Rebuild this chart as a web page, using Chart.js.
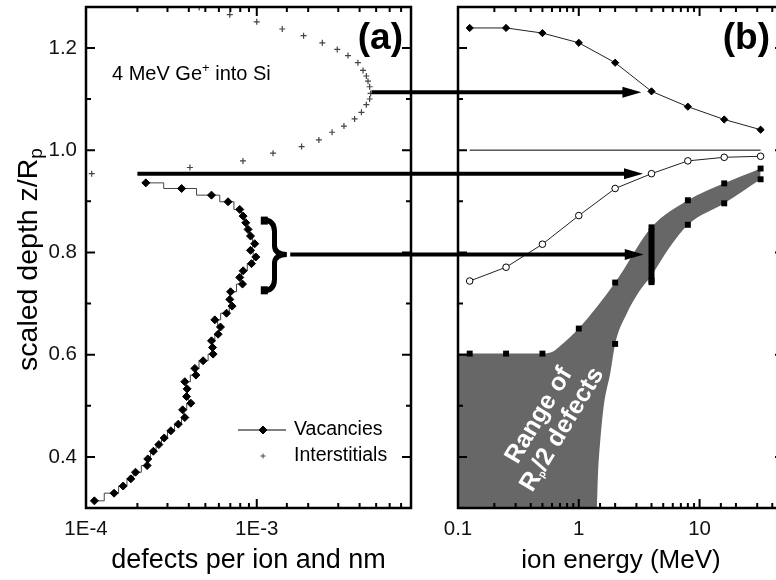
<!DOCTYPE html>
<html>
<head>
<meta charset="utf-8">
<script src="https://cdn.jsdelivr.net/npm/chart.js@4.4.1/dist/chart.umd.min.js"></script>
<style>
  body { margin: 0; background: #fff; }
  #wrap { position: relative; width: 776px; height: 580px; overflow: hidden; background: #fff; }
  #wrap canvas { position: absolute; left: 0; top: 0; }
</style>
</head>
<body>
<div id="wrap">
  <canvas id="profile" width="776" height="580"></canvas>
  <canvas id="energy" width="800" height="580"></canvas>
</div>
<script>
// (a) defect depth profile for 4 MeV Ge+ into Si
const vacDefects = [2.24e-4, 3.63e-4, 5.43e-4, 6.79e-4, 7.95e-4, 8.32e-4, 8.62e-4, 8.89e-4, 9.19e-4, 9.73e-4,
  9.19e-4, 9.87e-4, 9.31e-4, 8.32e-4, 7.95e-4, 8.25e-4, 7.02e-4, 6.95e-4, 7.17e-4, 6.65e-4,
  5.68e-4, 6.13e-4, 5.94e-4, 5.43e-4, 5.51e-4, 5.55e-4, 4.85e-4, 4.34e-4, 4.40e-4, 3.79e-4,
  3.91e-4, 3.88e-4, 4.11e-4, 3.68e-4, 3.79e-4, 3.47e-4, 3.14e-4, 2.87e-4, 2.67e-4, 2.48e-4,
  2.30e-4, 2.28e-4, 1.95e-4, 1.83e-4, 1.65e-4, 1.46e-4, 1.12e-4];
const vacDepth = [0.936, 0.925, 0.912, 0.899, 0.884, 0.871, 0.858, 0.845, 0.832, 0.817,
  0.804, 0.791, 0.778, 0.764, 0.751, 0.738, 0.723, 0.708, 0.695, 0.681,
  0.668, 0.654, 0.640, 0.627, 0.614, 0.601, 0.588, 0.573, 0.560, 0.547,
  0.533, 0.518, 0.505, 0.492, 0.477, 0.464, 0.451, 0.437, 0.424, 0.411,
  0.396, 0.383, 0.370, 0.357, 0.343, 0.329, 0.314];

const intDefects = [1.08e-4, 4.06e-4, 8.3e-4, 1.245e-3, 1.83e-3, 2.31e-3, 2.76e-3, 3.24e-3, 3.74e-3, 4.10e-3,
  4.38e-3, 4.58e-3, 4.64e-3, 4.58e-3, 4.48e-3, 4.38e-3, 4.19e-3, 3.91e-3, 3.42e-3, 2.96e-3,
  2.42e-3, 1.88e-3, 1.41e-3, 1.0e-3, 6.95e-4, 4.6e-4];
const intDepth = [0.954, 0.966, 0.979, 0.994, 1.007, 1.020, 1.035, 1.047, 1.061, 1.074,
  1.089, 1.100, 1.111, 1.124, 1.135, 1.145, 1.156, 1.171, 1.185, 1.197,
  1.210, 1.224, 1.237, 1.251, 1.265, 1.279];

// (b) characteristic depths vs ion energy
const energies = [0.125, 0.25, 0.5, 1, 2, 4, 8, 16, 32];
const interstitialPeak = [1.239, 1.239, 1.229, 1.210, 1.171, 1.115, 1.085, 1.060, 1.040];
const crossoverDepth = [0.744, 0.771, 0.816, 0.872, 0.925, 0.954, 0.979, 0.986, 0.988];
const rp2Upper = [0.602, 0.602, 0.602, 0.651, 0.741, 0.849, 0.902, 0.935, 0.964];
const rp2LowerEnergy = [2, 4, 8, 16, 32];
const rp2Lower = [0.621, 0.745, 0.854, 0.896, 0.943];

// outline of the shaded Rp/2 band
const bandTopEnergy = [0.1, 0.125, 0.25, 0.5, 0.6, 0.7, 1, 2, 4, 8, 16, 32];
const bandTopDepth = [0.602, 0.602, 0.602, 0.602, 0.605, 0.617, 0.651, 0.741, 0.849, 0.902, 0.935, 0.964];
const bandBotEnergy = [0.1, 1.40, 1.444, 1.51, 1.61, 1.83, 2, 2.48, 3.19, 4, 5.65, 8, 16, 32];
const bandBotDepth = [0.29, 0.29, 0.370, 0.435, 0.500, 0.566, 0.621, 0.679, 0.725, 0.755, 0.81, 0.854, 0.896, 0.943];

// 4 MeV range bar and the connecting arrows
const barEnergy = 4;
const barDepth = [0.736, 0.847];
const arrowDepth = [1.113, 0.954, 0.796];
const arrowFrom = [4.7e-3, 2.0e-4, 1.57e-3];
const arrowTo = [3.3, 3.4, 3.45];

// ticks
const depthTicks = [0.4, 0.5, 0.6, 0.7, 0.8, 0.9, 1.0, 1.1, 1.2];
const defectLabels = {'-4': '1E-4', '-3': '1E-3'};
const energyLabels = {'-1': '0.1', '0': '1', '1': '10'};

const FONT = '"Liberation Sans", Arial, sans-serif';
const font = (size, bold) => (bold ? 'bold ' : '') + size + 'px ' + FONT;
const pts = (xs, ys) => xs.map((x, i) => ({x, y: ys[i]}));
const decade = v => Math.round(Math.log10(v));
const isDecade = v => Math.abs(Math.log10(v) - decade(v)) < 1e-6;
const isMajorDepth = v => Math.round(v * 10) % 2 === 0;

Chart.defaults.font.family = FONT;
Chart.defaults.color = '#111';

// text made of runs with different sizes / baseline shifts
function drawRuns(ctx, runs, x, y, center) {
  ctx.textAlign = 'left';
  const widths = runs.map(r => { ctx.font = font(r.size, r.bold); return ctx.measureText(r.t).width; });
  let cx = center ? x - widths.reduce((s, w) => s + w, 0) / 2 : x;
  runs.forEach((r, i) => {
    ctx.font = font(r.size, r.bold);
    ctx.fillText(r.t, cx, y + (r.dy || 0));
    cx += widths[i];
  });
}

// inward ticks on all four sides plus the box
const frame = {
  id: 'frame',
  afterDatasetsDraw(chart) {
    const {ctx, chartArea: a, scales: {x, y}} = chart;
    ctx.save();
    ctx.strokeStyle = '#000';
    ctx.lineWidth = 2;
    ctx.beginPath();
    for (const t of x.ticks) {
      const px = x.getPixelForValue(t.value);
      if (px < a.left + 1 || px > a.right - 1) continue;
      const len = isDecade(t.value) ? 9 : 5;
      ctx.moveTo(px, a.bottom); ctx.lineTo(px, a.bottom - len);
      ctx.moveTo(px, a.top); ctx.lineTo(px, a.top + len);
    }
    for (const v of depthTicks) {
      const py = y.getPixelForValue(v);
      const len = isMajorDepth(v) ? 9 : 5;
      ctx.moveTo(a.left, py); ctx.lineTo(a.left + len, py);
      ctx.moveTo(a.right, py); ctx.lineTo(a.right - len, py);
    }
    ctx.stroke();
    ctx.lineWidth = 2.5;
    ctx.strokeRect(a.left, a.top, a.right - a.left, a.bottom - a.top);
    ctx.restore();
  }
};

const brace = {left: 1.07e-3, stem: 1.27e-3, tip: 1.5e-3, top: 0.870, mid: 0.796, bottom: 0.718};

const profileNotes = {
  id: 'profileNotes',
  afterDraw(chart) {
    const {ctx, chartArea: a, scales: {x, y}} = chart;
    ctx.save();
    ctx.fillStyle = '#000';
    ctx.textBaseline = 'alphabetic';

    ctx.font = font(37, true);
    ctx.textAlign = 'right';
    ctx.fillText('(a)', a.right - 8, a.top + 42);

    drawRuns(ctx, [{t: '4 MeV Ge', size: 20}, {t: '+', size: 13, dy: -8}, {t: ' into Si', size: 20}],
      a.left + 26, a.top + 73);

    // y axis title with subscript
    ctx.save();
    ctx.translate(a.left - 49, (a.top + a.bottom) / 2 + 2);
    ctx.rotate(-Math.PI / 2);
    drawRuns(ctx, [{t: 'scaled depth z/R', size: 28.5}, {t: 'p', size: 19, dy: 5}], 0, 0, true);
    ctx.restore();

    // legend
    const lx = a.right - 173, ly1 = a.bottom - 78, ly2 = a.bottom - 52;
    ctx.strokeStyle = '#000';
    ctx.lineWidth = 1;
    ctx.beginPath(); ctx.moveTo(lx, ly1); ctx.lineTo(lx + 48, ly1); ctx.stroke();
    Chart.helpers.drawPoint(ctx, {pointStyle: 'rectRot', radius: 4, borderWidth: 1, rotation: 0}, lx + 25, ly1);
    ctx.strokeStyle = '#444';
    Chart.helpers.drawPoint(ctx, {pointStyle: 'cross', radius: 2.5, borderWidth: 1, rotation: 0}, lx + 25, ly2);
    ctx.textBaseline = 'middle';
    ctx.textAlign = 'left';
    ctx.font = font(19.5);
    ctx.fillText('Vacancies', lx + 56, ly1);
    ctx.fillText('Interstitials', lx + 56, ly2);

    // curly brace marking the Rp/2 defect range
    const X0 = x.getPixelForValue(brace.left), X1 = x.getPixelForValue(brace.stem), X2 = x.getPixelForValue(brace.tip);
    const T = y.getPixelForValue(brace.top), M = y.getPixelForValue(brace.mid), B = y.getPixelForValue(brace.bottom);
    ctx.strokeStyle = '#000';
    ctx.lineWidth = 5;
    ctx.beginPath();
    ctx.moveTo(X0, T + 3);
    ctx.quadraticCurveTo(X1, T + 3, X1, T + 15);
    ctx.lineTo(X1, M - 9);
    ctx.quadraticCurveTo(X1, M, X2, M);
    ctx.quadraticCurveTo(X1, M, X1, M + 9);
    ctx.lineTo(X1, B - 15);
    ctx.quadraticCurveTo(X1, B - 3, X0, B - 3);
    ctx.stroke();
    ctx.fillRect(X0 - 1, T, 7, 8);
    ctx.fillRect(X0 - 1, B - 8, 7, 8);
    ctx.restore();
  }
};

const profileChart = new Chart(document.getElementById('profile'), {
  type: 'scatter',
  data: {
    datasets: [{
      label: 'Vacancies',
      data: pts(vacDefects, vacDepth),
      showLine: true,
      stepped: 'middle',
      fill: false,
      borderColor: '#444',
      borderWidth: 1,
      pointStyle: 'rectRot',
      pointRadius: 4,
      pointBackgroundColor: '#000',
      pointBorderColor: '#000',
      pointBorderWidth: 1
    }, {
      label: 'Interstitials',
      data: pts(intDefects, intDepth),
      pointStyle: 'cross',
      pointRadius: 3,
      pointBorderColor: '#444',
      pointBorderWidth: 1.2
    }]
  },
  options: {
    responsive: false,
    animation: false,
    devicePixelRatio: 1,
    events: [],
    layout: {padding: {left: 0, right: 365, top: 7, bottom: 0}},
    plugins: {legend: {display: false}, tooltip: {enabled: false}},
    scales: {
      x: {
        type: 'logarithmic',
        min: 1e-4,
        max: 8e-3,
        grid: {display: false, drawTicks: false},
        border: {display: false},
        ticks: {
          autoSkip: false, maxRotation: 0, padding: 9, font: {size: 20.5},
          callback: v => isDecade(v) ? (defectLabels[decade(v)] || '') : ''
        },
        title: {display: true, text: 'defects per ion and nm', color: '#000',
          font: {size: 27, lineHeight: 1}, padding: {top: 0, bottom: 6}},
        afterFit: s => { s.height = 72; s.paddingLeft = 0; s.paddingRight = 0; }
      },
      y: {
        min: 0.3,
        max: 1.28,
        grid: {display: false, drawTicks: false},
        border: {display: false},
        afterBuildTicks: s => { s.ticks = depthTicks.map(value => ({value})); },
        ticks: {padding: 9, font: {size: 20.5}, callback: v => isMajorDepth(v) ? v.toFixed(1) : ''},
        afterFit: s => { s.width = 86; s.paddingTop = 0; s.paddingBottom = 0; }
      }
    }
  },
  plugins: [frame, profileNotes]
});

const bandLabel = {energy: 0.586, depth: 0.467, angle: -59};

const energyNotes = {
  id: 'energyNotes',
  afterDatasetsDraw(chart) {
    const {ctx, scales: {x, y}} = chart;
    ctx.save();
    ctx.translate(x.getPixelForValue(bandLabel.energy), y.getPixelForValue(bandLabel.depth));
    ctx.rotate(bandLabel.angle * Math.PI / 180);
    ctx.fillStyle = '#fff';
    ctx.textBaseline = 'middle';
    drawRuns(ctx, [{t: 'Range of', size: 25, bold: true}], 0, -13.5, true);
    drawRuns(ctx, [{t: 'R', size: 25, bold: true}, {t: 'p', size: 10, bold: true, dy: 6},
      {t: '/2 defects', size: 25, bold: true}], 0, 13.5, true);
    ctx.restore();
  },
  afterDraw(chart) {
    const {ctx, chartArea: a, scales: {x, y}} = chart;
    const px = profileChart.scales.x;
    ctx.save();
    ctx.fillStyle = '#000';
    ctx.font = font(37, true);
    ctx.textAlign = 'right';
    ctx.textBaseline = 'alphabetic';
    ctx.fillText('(b)', a.right - 14, a.top + 42);

    ctx.strokeStyle = '#000';
    ctx.lineWidth = 4;
    arrowDepth.forEach((d, i) => {
      const py = y.getPixelForValue(d);
      const x0 = px.getPixelForValue(arrowFrom[i]);
      const x1 = x.getPixelForValue(arrowTo[i]);
      ctx.beginPath();
      ctx.moveTo(x0, py);
      ctx.lineTo(x1 - 16, py);
      ctx.stroke();
      ctx.beginPath();
      ctx.moveTo(x1, py);
      ctx.lineTo(x1 - 19, py - 5.5);
      ctx.lineTo(x1 - 19, py + 5.5);
      ctx.closePath();
      ctx.fill();
    });
    ctx.restore();
  }
};

new Chart(document.getElementById('energy'), {
  type: 'scatter',
  data: {
    datasets: [{
      label: 'band top',
      data: pts(bandTopEnergy, bandTopDepth),
      showLine: true,
      cubicInterpolationMode: 'monotone',
      fill: 1,
      backgroundColor: '#676767',
      borderColor: 'rgba(0,0,0,0)',
      borderWidth: 0,
      pointRadius: 0,
      order: 9
    }, {
      label: 'band bottom',
      data: pts(bandBotEnergy, bandBotDepth),
      showLine: true,
      cubicInterpolationMode: 'monotone',
      fill: false,
      borderColor: 'rgba(0,0,0,0)',
      borderWidth: 0,
      pointRadius: 0,
      order: 8
    }, {
      label: 'Rp',
      data: pts([energies[0], energies[energies.length - 1]], [1, 1]),
      showLine: true,
      fill: false,
      borderColor: '#000',
      borderWidth: 1,
      pointRadius: 0,
      order: 5
    }, {
      label: 'interstitial peak',
      data: pts(energies, interstitialPeak),
      showLine: true,
      fill: false,
      borderColor: '#222',
      borderWidth: 1,
      pointStyle: 'rectRot',
      pointRadius: 3.6,
      pointBackgroundColor: '#000',
      pointBorderColor: '#000',
      pointBorderWidth: 1,
      order: 4
    }, {
      label: 'crossover',
      data: pts(energies, crossoverDepth),
      showLine: true,
      fill: false,
      borderColor: '#222',
      borderWidth: 1,
      pointStyle: 'circle',
      pointRadius: 3.3,
      pointBackgroundColor: '#fff',
      pointBorderColor: '#000',
      pointBorderWidth: 1,
      order: 3
    }, {
      label: 'Rp/2 upper',
      data: pts(energies, rp2Upper),
      pointStyle: 'rect',
      pointRadius: 4.2,
      pointBackgroundColor: '#000',
      pointBorderColor: '#000',
      pointBorderWidth: 0,
      order: 2
    }, {
      label: 'Rp/2 lower',
      data: pts(rp2LowerEnergy, rp2Lower),
      pointStyle: 'rect',
      pointRadius: 4.2,
      pointBackgroundColor: '#000',
      pointBorderColor: '#000',
      pointBorderWidth: 0,
      order: 1
    }, {
      label: '4 MeV range',
      data: pts([barEnergy, barEnergy], barDepth),
      showLine: true,
      fill: false,
      borderColor: '#000',
      borderWidth: 6,
      pointRadius: 0,
      order: 0
    }]
  },
  options: {
    responsive: false,
    animation: false,
    devicePixelRatio: 1,
    events: [],
    layout: {padding: {left: 458, right: 16, top: 7, bottom: 0}},
    plugins: {legend: {display: false}, tooltip: {enabled: false}},
    scales: {
      x: {
        type: 'logarithmic',
        min: 0.1,
        max: 50,
        grid: {display: false, drawTicks: false},
        border: {display: false},
        ticks: {
          autoSkip: false, maxRotation: 0, padding: 9, font: {size: 20.5},
          callback: v => isDecade(v) ? (energyLabels[decade(v)] || '') : ''
        },
        title: {display: true, text: 'ion energy (MeV)', color: '#000',
          font: {size: 26, lineHeight: 1}, padding: {top: 0, bottom: 6}},
        afterFit: s => { s.height = 72; s.paddingLeft = 0; s.paddingRight = 0; }
      },
      y: {
        display: false,
        min: 0.3,
        max: 1.28,
        afterBuildTicks: s => { s.ticks = depthTicks.map(value => ({value})); }
      }
    }
  },
  plugins: [frame, energyNotes]
});
</script>
</body>
</html>
